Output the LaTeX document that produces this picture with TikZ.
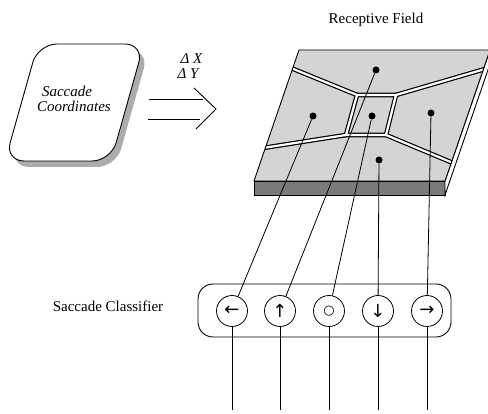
\documentclass[tikz,border=0pt]{standalone}
\usepackage{fontspec}
\setmainfont{Liberation Serif}
\newfontfamily\symfont{DejaVu Sans}
\begin{document}
\begin{tikzpicture}[x=1pt,y=-1pt,
  lbl/.style={font=\fontsize{15}{18}\selectfont, inner sep=0pt, anchor=base},
  ilbl/.style={font=\fontsize{15}{18}\selectfont\itshape, inner sep=0pt, anchor=base},
  dot/.style={circle, fill=black, inner sep=0pt, minimum size=7pt},
  cls/.style={circle, draw, line width=0.8pt, minimum size=31pt, inner sep=0pt, font=\symfont\fontsize{18}{20}\selectfont},
  conn/.style={line width=0.8pt},
  wallout/.style={line width=4.6pt, black, line join=miter},
  wallin/.style={line width=2.2pt, white, line join=miter},
  face/.style={draw, line width=0.9pt, line join=miter}]
\useasboundingbox (0,0) rectangle (488,414);
\clip (0,0) rectangle (488,414);

% Saccade coordinates box
\path[fill=gray!65, rounded corners=19pt] (43,50) -- (149,50) -- (116,167) -- (10,167) -- cycle;
\path[draw, fill=white, line width=0.9pt, rounded corners=19pt] (38,44) -- (144,44) -- (111,161) -- (5,161) -- cycle;
\node[ilbl] (sc1) at (67,96.7) {Saccade};
\node[ilbl] (sc2) at (74,111.7) {Coordinates};

% Delta labels and double arrow
\node[ilbl] (dx) at (191.5,63.3) {Δ X};
\node[ilbl] (dy) at (188,78.3) {Δ Y};
\draw[line width=0.9pt] (149,99) -- (203,99);
\draw[line width=0.9pt] (148,119) -- (200,119);
\draw[line width=0.9pt, line join=miter] (194,88) -- (216,109) -- (196,129);

% Receptive field
\node[lbl] (rf) at (376,23.5) {Receptive Field};
\path[fill=black!52, face] (254,181) -- (445,181) -- (445,195) -- (254,195) -- cycle;
\path[fill=white, face] (445,181) -- (490,50) -- (490,64) -- (445,195) -- cycle;
\path[fill=black!17] (299,50) -- (490,50) -- (445,181) -- (254,181) -- cycle;
\begin{scope}
  \clip (299,50) -- (490,50) -- (445,181) -- (254,181) -- cycle;
  \draw[wallout] (291,68) -- (357,95);
  \draw[wallout] (396,95) -- (485,69);
  \draw[wallout] (346,135) -- (263,148);
  \draw[wallout] (386,135) -- (453,163);
  \draw[wallout] (357,95) -- (396,95) -- (386,135) -- (346,135) -- cycle;
  \draw[wallin] (291,68) -- (357,95);
  \draw[wallin] (396,95) -- (485,69);
  \draw[wallin] (346,135) -- (263,148);
  \draw[wallin] (386,135) -- (453,163);
  \draw[wallin] (357,95) -- (396,95) -- (386,135) -- (346,135) -- cycle;
\end{scope}
\path[face] (299,50) -- (490,50) -- (445,181) -- (254,181) -- cycle;

\node[dot] (dt) at (376,70) {};
\node[dot] (dl) at (313,116) {};
\node[dot] (dc) at (372,116) {};
\node[dot] (dr) at (431,113) {};
\node[dot] (db) at (379,160) {};

% Classifier
\node[lbl] (scl) at (108,311.5) {Saccade Classifier};
\draw[line width=0.9pt, rounded corners=15pt] (198,284) rectangle (451,337);
\node[cls] (c1) at (232,311) {←};
\node[cls] (c2) at (280,311) {↑};
\node[cls] (c3) at (329,311) {\fontsize{13}{14}\selectfont ○};
\node[cls] (c4) at (378,311) {↓};
\node[cls] (c5) at (427,311) {→};

\draw[conn] (dl) -- (c1);
\draw[conn] (dt) -- (c2);
\draw[conn] (dc) -- (c3);
\draw[conn] (db) -- (c4);
\draw[conn] (dr) -- (c5);

\coordinate (e1) at (232,410);
\coordinate (e2) at (280,410);
\coordinate (e3) at (329,410);
\coordinate (e4) at (378,410);
\coordinate (e5) at (427,410);
\draw[conn] (c1) -- (e1);
\draw[conn] (c2) -- (e2);
\draw[conn] (c3) -- (e3);
\draw[conn] (c4) -- (e4);
\draw[conn] (c5) -- (e5);
\end{tikzpicture}
\end{document}
